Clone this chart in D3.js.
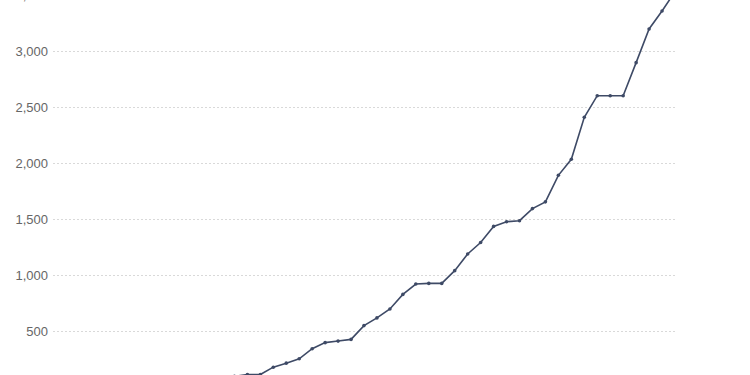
<!DOCTYPE html>
<meta charset="utf-8">
<style>
    body {
        margin: 0;
        font: 13px "Liberation Sans", Arial, sans-serif;
        background: #fff;
    }
    svg { display: block; overflow: hidden; }
    .grid line {
        stroke: #d9d9d9;
        stroke-dasharray: 2,2;
    }
    .axis text {
        fill: #666;
    }
    path.line {
        fill: none;
        stroke: #3e4a66;
        stroke-width: 1.6;
    }
</style>
<body>
<div id="main"></div>
<script src="https://cdnjs.cloudflare.com/ajax/libs/d3/7.8.5/d3.min.js"></script>
<script>
// values; the first ones sit below the visible crop
var steps = d3.range(0, 49);
var values = [4, 6, 9, 12, 16, 20, 25, 31, 38, 46, 55, 64, 74, 84, 95,
    111, 111, 177, 213, 252, 342, 396, 410, 425, 548, 617, 697, 827, 919, 925, 925,
    1039, 1188, 1290, 1434, 1476, 1485, 1593, 1653, 1890, 2033, 2408, 2601, 2601, 2601,
    2896, 3197, 3357, 3530];
var yTicks = [500, 1000, 1500, 2000, 2500, 3000, 3500];

var width = 750, height = 375;

var x = d3.scaleLinear()
        .domain([0, steps.length - 1])
        .range([53, 675]);

var y = d3.scaleLinear()
        .domain([0, 3500])
        .range([387, -5]);

var svg = d3.select("#main").append("svg")
        .attr("width", width)
        .attr("height", height);

var grid = svg.append("g").attr("class", "grid");
grid.selectAll("line")
    .data(yTicks)
    .enter().append("line")
    .attr("x1", 53)
    .attr("x2", 675)
    .attr("y1", function(d) { return Math.round(y(d)) + 0.5; })
    .attr("y2", function(d) { return Math.round(y(d)) + 0.5; });

var yAxis = d3.axisLeft(y)
        .tickValues(yTicks)
        .tickSize(0)
        .tickPadding(0)
        .tickFormat(d3.format(","));

svg.append("g")
    .attr("class", "y axis")
    .attr("transform", "translate(48,0)")
    .call(yAxis)
    .call(function(g) { g.select(".domain").remove(); })
    .selectAll("text")
    .attr("font-size", 13)
    .attr("font-family", "'Liberation Sans', Arial, sans-serif");

var line = d3.line()
        .x(function(d, i) { return x(steps[i]); })
        .y(function(d) { return y(d); });

svg.append("path")
    .datum(values)
    .attr("class", "line")
    .attr("d", line);

svg.append("g").selectAll("circle")
    .data(values)
    .enter().append("circle")
    .attr("cx", function(d, i) { return x(steps[i]); })
    .attr("cy", function(d) { return y(d); })
    .attr("r", 1.8)
    .attr("fill", "#3e4a66");
</script>
